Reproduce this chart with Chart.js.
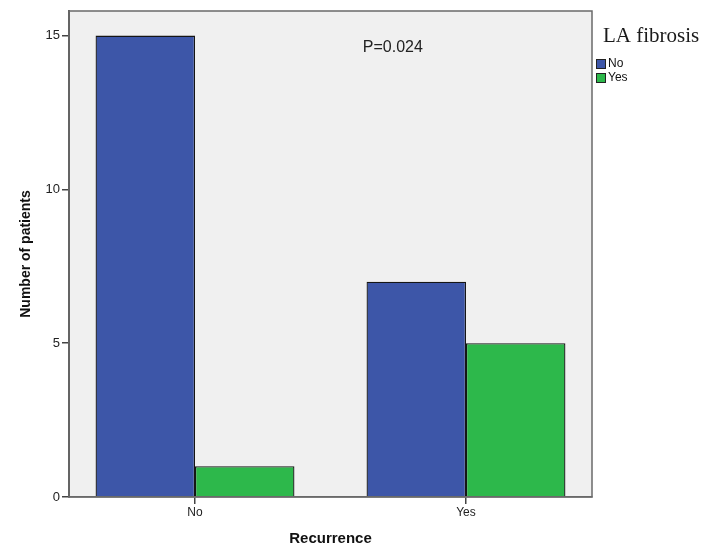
<!DOCTYPE html>
<html lang="en">
  <head>
    <meta charset="UTF-8" />
    <title>LA fibrosis by recurrence</title>
    <script src="https://cdn.jsdelivr.net/npm/chart.js"></script>
    <style>
      html, body { margin: 0; padding: 0; background: #fff; }
      #wrap { width: 715px; height: 548px; }
    </style>
  </head>
  <body>
    <div id="wrap"><canvas id="chart" width="715" height="548"></canvas></div>

    <script>
      // categories on the x axis and the counts for each fibrosis group
      const categories = ["No", "Yes"];
      const groups = ["No", "Yes"];
      const fibrosisNo = [15, 7];
      const fibrosisYes = [1, 5];
      const yTicks = [0, 5, 10, 15];
      const pLabel = "P=0.024";

      const barColors = ["#3d56a8", "#2db84b"];

      // categories sit at 0 and 1 on a linear axis so the side margins can be set
      const toPoints = (vals) => vals.map((v, i) => ({ x: i, y: v }));

      // light grey plot panel with a box around it
      const panel = {
        id: "panel",
        beforeDraw(chart) {
          const { ctx, chartArea: a } = chart;
          ctx.save();
          ctx.fillStyle = "#f0f0f0";
          ctx.fillRect(a.left, a.top, a.right - a.left, a.bottom - a.top);
          ctx.restore();
        },
        afterDraw(chart) {
          const { ctx, chartArea: a, scales } = chart;
          ctx.save();
          ctx.strokeStyle = "#6a6a6a";
          ctx.lineWidth = 1.5;
          ctx.strokeRect(a.left, a.top, a.right - a.left, a.bottom - a.top);

          // p-value note inside the plot
          ctx.fillStyle = "#222";
          ctx.font = "16px 'Liberation Sans', Arial, sans-serif";
          ctx.textAlign = "center";
          ctx.textBaseline = "middle";
          ctx.fillText(pLabel, scales.x.getPixelForValue(0.73), scales.y.getPixelForValue(14.6));

          // legend on the right
          const lx = a.right + 4;
          ctx.textAlign = "left";
          ctx.textBaseline = "alphabetic";
          ctx.fillStyle = "#1a1a1a";
          ctx.font = "21px 'Liberation Serif', 'Times New Roman', serif";
          ctx.fillText("LA fibrosis", lx + 7, 42);
          ctx.font = "12px 'Liberation Sans', Arial, sans-serif";
          ctx.textBaseline = "middle";
          groups.forEach((g, i) => {
            const y = 63 + i * 14;
            ctx.fillStyle = barColors[i];
            ctx.fillRect(lx, y - 4, 9, 9);
            ctx.strokeStyle = "#222";
            ctx.lineWidth = 1;
            ctx.strokeRect(lx + 0.5, y - 3.5, 9, 9);
            ctx.fillStyle = "#111";
            ctx.fillText(g, lx + 12, y + 1);
          });
          ctx.restore();
        },
      };

      new Chart(document.getElementById("chart"), {
        type: "bar",
        data: {
          datasets: [
            {
              label: groups[0],
              data: toPoints(fibrosisNo),
              backgroundColor: barColors[0],
              borderColor: "#151515",
              borderWidth: 1.3,
            },
            {
              label: groups[1],
              data: toPoints(fibrosisYes),
              backgroundColor: barColors[1],
              borderColor: "#151515",
              borderWidth: 1.3,
            },
          ],
        },
        options: {
          responsive: false,
          animation: false,
          layout: { padding: { top: 11, right: 123, left: 0, bottom: 0 } },
          datasets: { bar: { barPercentage: 1, categoryPercentage: 0.734 } },
          plugins: { legend: { display: false }, tooltip: { enabled: false } },
          scales: {
            x: {
              type: "linear",
              min: -0.465,
              max: 1.465,
              offset: false,
              afterBuildTicks: (s) => { s.ticks = categories.map((c, i) => ({ value: i })); },
              afterFit: (s) => { s.height = 51; },
              ticks: {
                callback: (v) => categories[v],
                color: "#222",
                font: { family: "'Liberation Sans', Arial, sans-serif", size: 12 },
                padding: 1,
                maxRotation: 0,
              },
              grid: { offset: false, drawOnChartArea: false, tickLength: 7, color: "#444", lineWidth: 1.5 },
              border: { color: "#6a6a6a", width: 1.5 },
              title: {
                display: true,
                text: "Recurrence",
                color: "#111",
                font: { family: "'Liberation Sans', Arial, sans-serif", size: 15, weight: "bold" },
                padding: { top: 8, bottom: 0 },
              },
            },
            y: {
              min: 0,
              max: 15.8,
              afterBuildTicks: (s) => { s.ticks = yTicks.map((v) => ({ value: v })); },
              afterFit: (s) => { s.width = 69; },
              ticks: {
                color: "#222",
                font: { family: "'Liberation Sans', Arial, sans-serif", size: 13 },
                padding: 2,
              },
              grid: { drawOnChartArea: false, tickLength: 7, color: "#444", lineWidth: 1.5 },
              border: { color: "#555", width: 2 },
              title: {
                display: true,
                text: "Number of patients",
                color: "#111",
                font: { family: "'Liberation Sans', Arial, sans-serif", size: 14, weight: "bold" },
                padding: { top: 18, bottom: 0 },
              },
            },
          },
        },
        plugins: [panel],
      });
    </script>
  </body>
</html>
